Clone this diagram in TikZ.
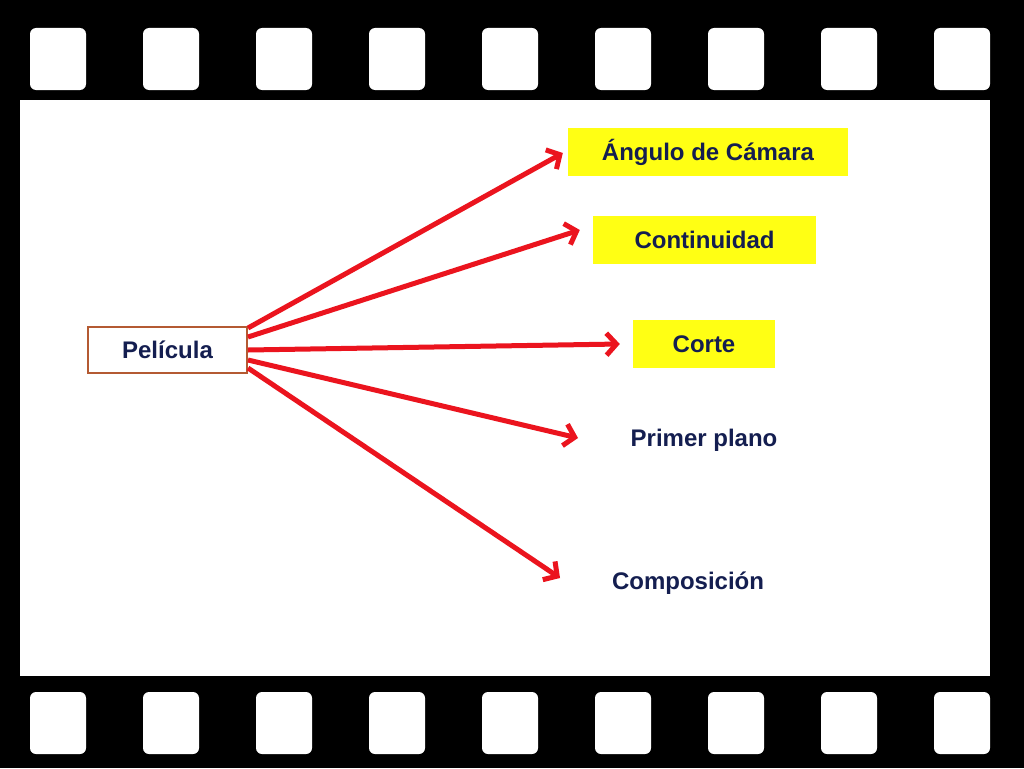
\documentclass[tikz,border=0pt]{standalone}
\usepackage{fontspec}
\setmainfont{Liberation Sans}
\usetikzlibrary{arrows.meta}
\definecolor{navy}{RGB}{20,30,80}
\definecolor{arrowred}{RGB}{235,20,30}
\definecolor{boxyellow}{RGB}{255,255,20}
\tikzset{
  hole/.style={fill=white, rounded corners=6pt},
  label/.style={text=navy, font=\fontsize{24}{28}\selectfont\bfseries, inner sep=0pt},
  ybox/.style={fill=boxyellow, minimum height=48pt},
  ray/.style={draw=arrowred, line width=5pt, -{Straight Barb[length=10pt,width=22pt,line width=5pt]}}
}
\begin{document}
\begin{tikzpicture}[x=1pt,y=-1pt]
  % film strip
  \fill[black] (0,0) rectangle (1024,768);
  \useasboundingbox (0,0) rectangle (1024,768);
  \foreach \x in {30,143,256,369,482,595,708,821,934} {
    \fill[hole] (\x,28) rectangle ++(56,62);
    \fill[hole] (\x,692) rectangle ++(56,62);
  }
  \fill[white] (20,100) rectangle (990,676);

  % nodes
  \node[label, draw={rgb,255:red,180;green,90;blue,50}, line width=1.5pt,
        minimum width=159pt, minimum height=46pt] (pel) at (167.5,350) {Película};
  \node[label, ybox, minimum width=280pt] (ang) at (708,152) {Ángulo de Cámara};
  \node[label, ybox, minimum width=223pt] (con) at (704.5,240) {Continuidad};
  \node[label, ybox, minimum width=142pt] (cor) at (704,344) {Corte};
  \node[label] (pri) at (704,440) {Primer plano};
  \node[label] (com) at (688,583) {Composición};

  % connectors
  \coordinate (s1) at (248,328);
  \coordinate (s2) at (248,337);
  \coordinate (s3) at (248,350);
  \coordinate (s4) at (248,360);
  \coordinate (s5) at (248,368);
  \coordinate (e4) at (578,438);
  \coordinate (e5) at (560,578);
  \draw[ray] (s1) -- ([shift={(-5,1)}]ang.west);
  \draw[ray] (s2) -- ([shift={(-13,-10)}]con.west);
  \draw[ray] (s3) -- ([shift={(-13,0)}]cor.west);
  \draw[ray] (s4) -- (e4);
  \draw[ray] (s5) -- (e5);
\end{tikzpicture}
\end{document}
